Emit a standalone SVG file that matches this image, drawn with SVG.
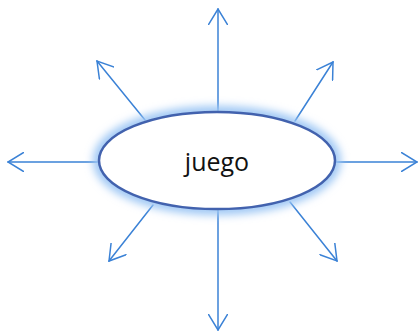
<svg xmlns="http://www.w3.org/2000/svg" width="419" height="332" viewBox="0 0 419 332">
<defs>
<style>
.c{stroke:#3b82d6;stroke-width:1.5;fill:none;stroke-linecap:round}
.t{font-family:"Open Sans","Liberation Sans",sans-serif;font-size:25px;fill:#111;text-anchor:middle}
</style>
<marker id="ah" viewBox="0 0 17 20" refX="16" refY="10" markerWidth="17" markerHeight="20" markerUnits="userSpaceOnUse" orient="auto">
<path d="M0.5,0.5 L16,10 L0.5,19.5" fill="none" stroke="#3b82d6" stroke-width="1.5" stroke-linecap="round" stroke-linejoin="miter"/>
</marker>
<filter id="glow" x="-20%" y="-40%" width="140%" height="180%">
<feGaussianBlur stdDeviation="4"/>
</filter>
</defs>
<g id="connectors">
<line class="c" x1="218" y1="112" x2="218" y2="9" marker-end="url(#ah)"/>
<line class="c" x1="218" y1="209" x2="218" y2="330" marker-end="url(#ah)"/>
<line class="c" x1="99" y1="162" x2="8" y2="162" marker-end="url(#ah)"/>
<line class="c" x1="335" y1="162" x2="417" y2="162" marker-end="url(#ah)"/>
<line class="c" x1="145" y1="120" x2="97" y2="61" marker-end="url(#ah)"/>
<line class="c" x1="295" y1="121" x2="333" y2="62" marker-end="url(#ah)"/>
<line class="c" x1="153" y1="205" x2="109" y2="261" marker-end="url(#ah)"/>
<line class="c" x1="290" y1="202" x2="337" y2="261" marker-end="url(#ah)"/>
</g>
<g id="juego">
<ellipse cx="217" cy="160.5" rx="118" ry="48.5" fill="none" stroke="#9cc6f4" stroke-width="12" filter="url(#glow)"/>
<ellipse cx="217" cy="160.5" rx="118" ry="48.5" fill="#ffffff" stroke="#4262ae" stroke-width="2.5"/>
<text class="t" x="217" y="171">juego</text>
</g>
</svg>
